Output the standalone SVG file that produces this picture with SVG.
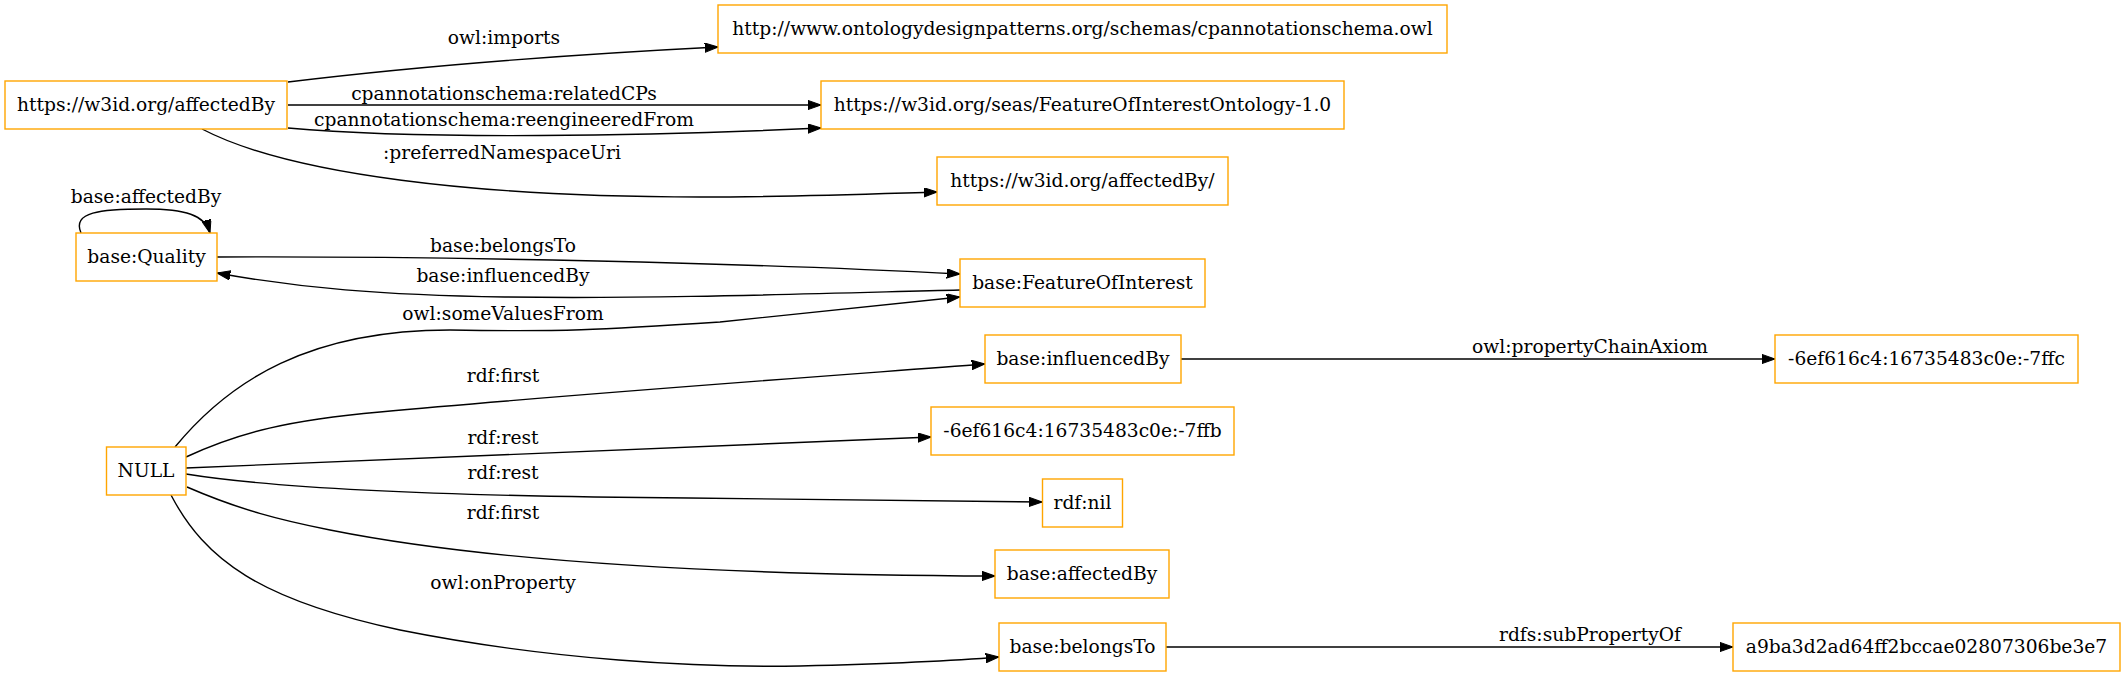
<svg xmlns="http://www.w3.org/2000/svg" width="2125" height="676" viewBox="0 0 2125 676">
<style>
.node rect{fill:#fff;stroke:#ffa500;stroke-width:1.4}
text{font-family:"DejaVu Serif","Liberation Serif",serif;font-size:18.67px;fill:#000;text-anchor:middle}
.edges path{fill:none;stroke:#000;stroke-width:1.4;marker-end:url(#arr)}
</style>
<defs>
<marker id="arr" markerUnits="userSpaceOnUse" markerWidth="14" markerHeight="10" refX="13.3" refY="4.7" orient="auto">
<path d="M0,0 L13.3,4.7 L0,9.4 Z" fill="#000" stroke="#000" stroke-width="1"/>
</marker>
</defs>
<rect width="2125" height="676" fill="#fff"/>
<g class="edges">
<path d="M288,82 C420,66 580,54 718,47"/>
<path d="M288,105 L821,105"/>
<path d="M288,128 C420,140 650,136 821,128"/>
<path d="M202,129 C290,175 480,197 700,197 C790,197 870,194 937,192"/>
<path d="M81,233 C72,212 100,209 146,209 C185,209 205,215 210,233"/>
<path d="M217,257 C450,256 750,263 960,274"/>
<path d="M960,290 C800,294 650,299 505,297 C380,295 300,288 217,273"/>
<path d="M175,447 C230,380 310,330 450,330 C560,332 600,330 720,322 C820,312 900,303 960,297"/>
<path d="M186,457 C240,432 290,420 380,412 C550,396 800,378 985,364"/>
<path d="M186,468 L931,437"/>
<path d="M186,474 C260,486 400,496 689,498 C850,500 950,501 1042,502"/>
<path d="M187,487 C240,510 280,520 330,530 C480,560 700,575 995,576"/>
<path d="M171,495 C205,560 260,600 400,630 C550,660 700,668 800,666 C880,664 940,662 999,657"/>
<path d="M1181,359 L1775,359"/>
<path d="M1166,647 L1733,647"/>
</g>
<g class="labels">
<text x="504" y="44">owl:imports</text>
<text x="504" y="100">cpannotationschema:relatedCPs</text>
<text x="504" y="126">cpannotationschema:reengineeredFrom</text>
<text x="502" y="159">:preferredNamespaceUri</text>
<text x="146" y="203">base:affectedBy</text>
<text x="503" y="252">base:belongsTo</text>
<text x="503" y="282">base:influencedBy</text>
<text x="503" y="320">owl:someValuesFrom</text>
<text x="503" y="382">rdf:first</text>
<text x="503" y="444">rdf:rest</text>
<text x="503" y="479">rdf:rest</text>
<text x="503" y="519">rdf:first</text>
<text x="503" y="589">owl:onProperty</text>
<text x="1590" y="353">owl:propertyChainAxiom</text>
<text x="1590" y="641">rdfs:subPropertyOf</text>
</g>
<g id="n1" class="node"><rect x="5" y="81" width="282" height="48"/><text x="146" y="111">https://w3id.org/affectedBy</text></g>
<g id="n2" class="node"><rect x="718" y="5" width="729" height="48"/><text x="1082.5" y="35">http://www.ontologydesignpatterns.org/schemas/cpannotationschema.owl</text></g>
<g id="n3" class="node"><rect x="821" y="81" width="523" height="48"/><text x="1082.5" y="111">https://w3id.org/seas/FeatureOfInterestOntology-1.0</text></g>
<g id="n4" class="node"><rect x="937" y="157" width="291" height="48"/><text x="1082.5" y="187">https://w3id.org/affectedBy/</text></g>
<g id="n5" class="node"><rect x="76" y="233" width="141" height="48"/><text x="146.5" y="263">base:Quality</text></g>
<g id="n6" class="node"><rect x="960" y="259" width="245" height="48"/><text x="1082.5" y="289">base:FeatureOfInterest</text></g>
<g id="n7" class="node"><rect x="985" y="335" width="196" height="48"/><text x="1083" y="365">base:influencedBy</text></g>
<g id="n8" class="node"><rect x="1775" y="335" width="303" height="48"/><text x="1926.5" y="365">-6ef616c4:16735483c0e:-7ffc</text></g>
<g id="n9" class="node"><rect x="106.5" y="447" width="79.5" height="48"/><text x="146" y="477">NULL</text></g>
<g id="n10" class="node"><rect x="931" y="407" width="303" height="48"/><text x="1082.5" y="437">-6ef616c4:16735483c0e:-7ffb</text></g>
<g id="n11" class="node"><rect x="1042.5" y="479" width="80" height="48"/><text x="1082.5" y="509">rdf:nil</text></g>
<g id="n12" class="node"><rect x="995" y="550" width="174" height="48"/><text x="1082" y="580">base:affectedBy</text></g>
<g id="n13" class="node"><rect x="999" y="623" width="167" height="48"/><text x="1082.5" y="653">base:belongsTo</text></g>
<g id="n14" class="node"><rect x="1733" y="623" width="387" height="48"/><text x="1926.5" y="653">a9ba3d2ad64ff2bccae02807306be3e7</text></g>
</svg>
